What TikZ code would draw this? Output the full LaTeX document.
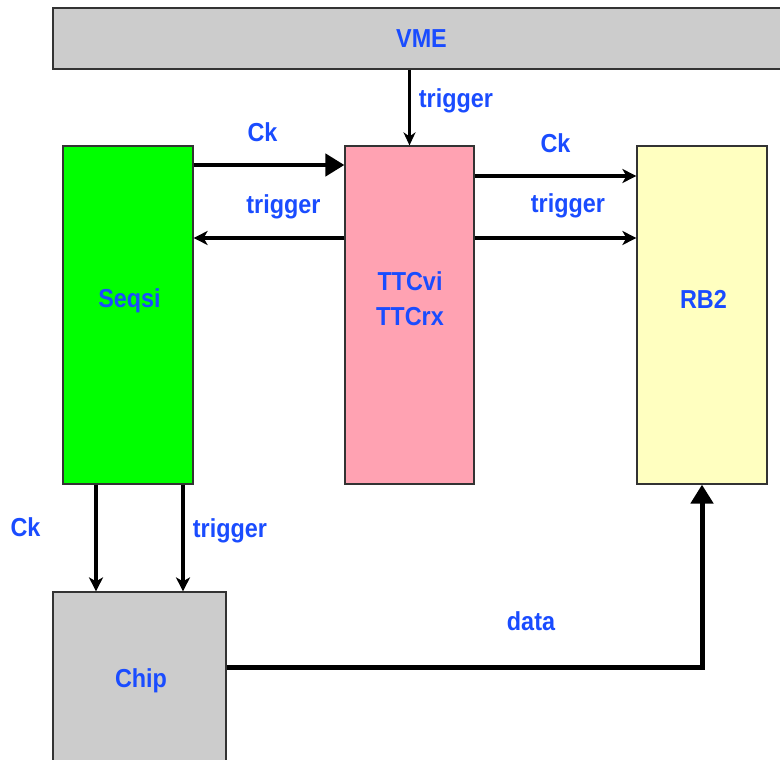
\documentclass[tikz,border=0pt]{standalone}
\usepackage{fontspec}
\setmainfont{Liberation Sans}[FakeStretch=0.9]
\usetikzlibrary{arrows.meta}
\definecolor{lblue}{HTML}{1A4CFF}
\definecolor{vgray}{HTML}{CCCCCC}
\definecolor{sgreen}{HTML}{00FF00}
\definecolor{tpink}{HTML}{FFA2B2}
\definecolor{ryellow}{HTML}{FFFFC0}
\definecolor{edge}{HTML}{333333}
\begin{document}
\begin{tikzpicture}[x=1pt,y=-1pt,
  box/.style={draw=edge,line width=1.2pt,inner sep=0pt},
  lbl/.style={font=\fontsize{26}{35}\selectfont\bfseries,text=lblue,inner sep=0pt,anchor=base},
  thin/.style={line width=2.8pt,-{Stealth[length=13pt,width=12pt,inset=4pt]}},
  med/.style={line width=4pt,-{Stealth[length=14pt,width=14pt,inset=4pt]}},
  big/.style={line width=4.5pt,-{Triangle[length=19pt,width=22pt]}}]
\useasboundingbox (0,0) rectangle (780,760);
\clip (0,0) rectangle (780,760);
\fill[white] (0,0) rectangle (780,760);
\node[box,fill=vgray,minimum width=737pt,minimum height=61pt] (vme) at (421.5,38.5) {};
\node[lbl] (vmet) at (421.5,48) {VME};
\node[box,fill=sgreen,minimum width=130pt,minimum height=338pt] (seqsi) at (128,315) {};
\node[lbl] (seqsit) at (129.5,307) {Seqsi};
\node[box,fill=tpink,minimum width=129pt,minimum height=338pt] (ttc) at (409.5,315) {};
\node[lbl] (ttct1) at (410,290) {TTCvi};
\node[lbl] (ttct2) at (410,325) {TTCrx};
\node[box,fill=ryellow,minimum width=130pt,minimum height=338pt] (rb2) at (702,315) {};
\node[lbl] (rb2t) at (703.5,308) {RB2};
\node[box,fill=vgray,minimum width=173pt,minimum height=174pt] (chip) at (139.5,679) {};
\node[lbl] (chipt) at (141,687) {Chip};
\coordinate (yck1) at (0,165);
\coordinate (yck2) at (0,176);
\coordinate (ytr) at (0,238);
\coordinate (ydata) at (0,667.5);
\coordinate (xck) at (96,0);
\coordinate (xtr) at (183,0);
\coordinate (xrb) at (702,0);
\coordinate (corner) at (xrb |- ydata);
% VME -> TTC
\draw[thin] (vme.south -| ttc) -- (ttc.north);
\node[lbl] (l1) at (456,107) {trigger};
% Seqsi <-> TTC
\draw[big] (seqsi.east |- yck1) -- (ttc.west |- yck1);
\node[lbl] (l2) at (262.5,141) {Ck};
\draw[med] (ttc.west |- ytr) -- (seqsi.east |- ytr);
\node[lbl] (l3) at (283.5,213) {trigger};
% TTC -> RB2
\draw[med] (ttc.east |- yck2) -- (rb2.west |- yck2);
\node[lbl] (l4) at (555.5,152) {Ck};
\draw[med] (ttc.east |- ytr) -- (rb2.west |- ytr);
\node[lbl] (l5) at (568,212) {trigger};
% Seqsi -> Chip
\draw[med] (seqsi.south -| xck) -- (chip.north -| xck);
\node[lbl] (l6) at (25.5,536) {Ck};
\draw[med] (seqsi.south -| xtr) -- (chip.north -| xtr);
\node[lbl] (l7) at (230,537) {trigger};
% Chip -> RB2
\draw[big,line width=5pt] (chip.east |- ydata) -- (corner) -- (rb2.south -| xrb);
\node[lbl] (l8) at (531,630) {data};
\end{tikzpicture}
\end{document}
